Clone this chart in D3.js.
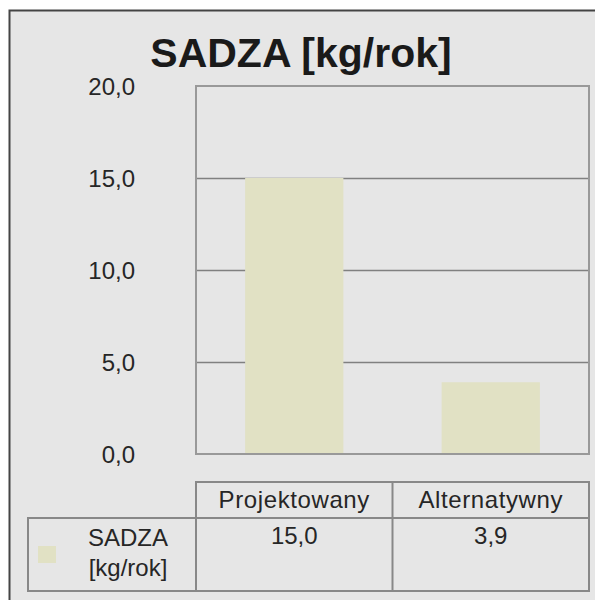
<!DOCTYPE html>
<html>
<head>
<meta charset="utf-8">
<script src="https://cdn.jsdelivr.net/npm/d3@7"></script>
<style>
  html, body { margin: 0; padding: 0; background: #fff; }
  svg { display: block; }
  text { font-family: "Liberation Sans", Arial, sans-serif; fill: #262626; }
</style>
</head>
<body>
<script>
const title = 'SADZA [kg/rok]'
const categories = ['Projektowany', 'Alternatywny']
const values = [15.0, 3.9]
const seriesName = ['SADZA', '[kg/rok]']
const yTicks = [0, 5, 10, 15, 20]

const width = 595
const height = 600
const plot = { left: 196, right: 589, top: 86, bottom: 454 }
const barColor = '#e1e1c4'
const fmt = v => d3.format('.1f')(v).replace('.', ',')

const svg = d3.select('body').append('svg')
  .attr('width', width)
  .attr('height', height)

// outer frame (right/bottom run off the picture)
svg.append('rect')
  .attr('x', 9.5).attr('y', 10.5)
  .attr('width', 600).attr('height', 600)
  .attr('fill', '#e6e6e6')
  .attr('stroke', '#444')
  .attr('stroke-width', 2)

svg.append('text')
  .attr('x', 301).attr('y', 67)
  .attr('text-anchor', 'middle')
  .style('font-size', '41px')
  .style('font-weight', 'bold')
  .style('fill', '#1a1a1a')
  .text(title)

const y = d3.scaleLinear().domain([0, 20]).range([plot.bottom, plot.top])
const x = d3.scaleBand().domain(categories)
  .range([plot.left, plot.right])
  .paddingInner(0.5).paddingOuter(0.25)

// grid
svg.append('g')
  .selectAll('line')
  .data(yTicks.filter(t => t > 0 && t < 20))
  .join('line')
  .attr('x1', plot.left).attr('x2', plot.right)
  .attr('y1', d => Math.round(y(d)) + 0.5).attr('y2', d => Math.round(y(d)) + 0.5)
  .attr('stroke', '#808080')
  .attr('stroke-width', 1.5)

// bars
svg.append('g')
  .selectAll('rect')
  .data(values)
  .join('rect')
  .attr('x', (d, i) => x(categories[i]))
  .attr('width', x.bandwidth())
  .attr('y', d => y(d))
  .attr('height', d => y(0) - y(d))
  .attr('fill', barColor)

// plot border
svg.append('rect')
  .attr('x', plot.left).attr('y', plot.top)
  .attr('width', plot.right - plot.left)
  .attr('height', plot.bottom - plot.top)
  .attr('fill', 'none')
  .attr('stroke', '#999')
  .attr('stroke-width', 2)

// y axis labels
const yAxis = svg.append('g')
  .attr('transform', 'translate(135,1)')
  .call(d3.axisLeft(y).tickValues(yTicks).tickSize(0).tickPadding(0).tickFormat(fmt))
yAxis.select('.domain').remove()
yAxis.selectAll('text')
  .style('font-size', '24px')
  .style('font-family', '"Liberation Sans", Arial, sans-serif')
  .attr('fill', '#262626')

// data table
const table = { headTop: 482, rowTop: 518, bottom: 591, labelLeft: 28 }
const tg = svg.append('g')
  .attr('fill', 'none')
  .attr('stroke', '#888')
  .attr('stroke-width', 2)
tg.append('rect')
  .attr('x', plot.left).attr('y', table.headTop)
  .attr('width', plot.right - plot.left).attr('height', table.bottom - table.headTop)
tg.append('rect')
  .attr('x', table.labelLeft).attr('y', table.rowTop)
  .attr('width', plot.right - table.labelLeft).attr('height', table.bottom - table.rowTop)
tg.selectAll('line.sep')
  .data(categories.slice(1))
  .join('line')
  .attr('x1', d => x(d) - x.step() * x.paddingInner() / 2)
  .attr('x2', d => x(d) - x.step() * x.paddingInner() / 2)
  .attr('y1', table.headTop).attr('y2', table.bottom)

svg.append('g')
  .selectAll('text')
  .data(categories)
  .join('text')
  .attr('x', d => x(d) + x.bandwidth() / 2)
  .attr('y', 508)
  .attr('text-anchor', 'middle')
  .style('font-size', '24px')
  .style('letter-spacing', '0.6px')
  .text(d => d)

svg.append('g')
  .selectAll('text')
  .data(values)
  .join('text')
  .attr('x', (d, i) => x(categories[i]) + x.bandwidth() / 2)
  .attr('y', 544)
  .attr('text-anchor', 'middle')
  .style('font-size', '24px')
  .text(d => fmt(d))

// legend in table
svg.append('rect')
  .attr('x', 38).attr('y', 546)
  .attr('width', 18).attr('height', 17)
  .attr('fill', barColor)
svg.append('g')
  .selectAll('text')
  .data(seriesName)
  .join('text')
  .attr('x', 128)
  .attr('y', (d, i) => 546 + i * 30)
  .attr('text-anchor', 'middle')
  .style('font-size', '24px')
  .text(d => d)
</script>
</body>
</html>
